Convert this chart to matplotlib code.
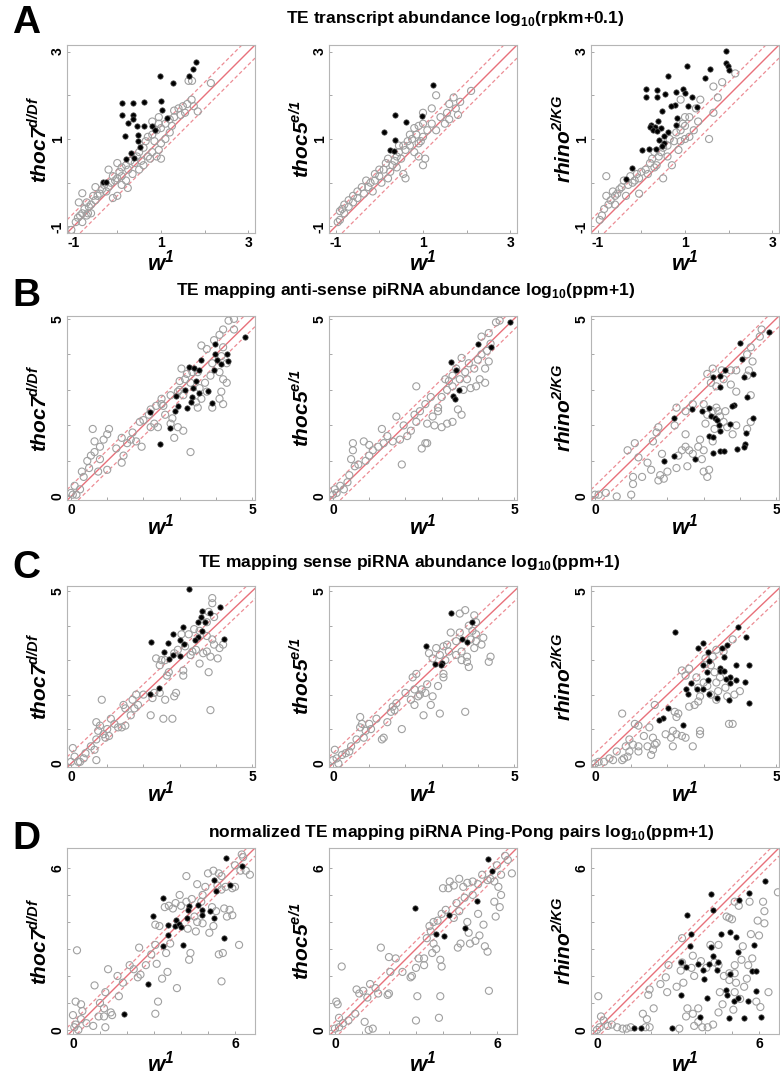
import matplotlib.pyplot as plt

plt.rcParams['font.family'] = 'Liberation Sans'
plt.rcParams['mathtext.fontset'] = 'custom'
plt.rcParams['mathtext.sf'] = 'Liberation Sans:italic:bold'
plt.rcParams['mathtext.bf'] = 'Liberation Sans:bold'
plt.rcParams['mathtext.rm'] = 'Liberation Sans:bold'

# ---- data: (w1, mutant) pairs ----
# A: TE transcript abundance
a_thoc7_grey = [(2.14, 2.28), (1.63, 2.33), (1.71, 2.33), (1.84, 1.63), (1.7, 1.9), (1.6, 1.8), (1.5, 1.75),
                (1.4, 1.7), (1.3, 1.65), (1.75, 1.75), (1.55, 1.6), (1.2, 1.45), (1.1, 1.35), (1.25, 1.3),
                (1.0, 1.25), (0.95, 1.35), (0.9, 1.2), (0.8, 1.1), (0.7, 1.05), (0.65, 0.95), (0.85, 0.95),
                (1.0, 0.9), (1.0, 0.55), (0.95, 0.75), (0.8, 0.7), (0.75, 0.55), (0.6, 0.8), (0.5, 0.7),
                (0.45, 0.6), (0.55, 0.5), (0.4, 0.45), (0.3, 0.5), (0.2, 0.4), (0.25, 0.3), (0.1, 0.35),
                (0.05, 0.25), (0.1, 0.15), (0.0, 0.1), (-0.05, 0.05), (-0.1, 0.15), (-0.15, 0.0), (-0.2, -0.1),
                (-0.3, -0.05), (-0.25, -0.2), (-0.35, -0.15), (-0.4, -0.25), (-0.45, -0.3), (-0.5, -0.4),
                (-0.55, -0.3), (-0.6, -0.5), (-0.65, -0.55), (-0.7, -0.45), (-0.75, -0.6), (-0.8, -0.7),
                (-0.85, -0.75), (-0.9, -0.8), (-0.95, -0.9), (-0.8, -0.9), (-0.7, -0.75), (-0.6, -0.7),
                (0.0, -0.3), (-0.1, -0.35), (0.1, -0.05), (0.2, 0.05), (0.35, 0.2), (0.5, 0.3), (0.6, 0.4),
                (0.7, 0.6), (0.9, 0.6), (1.1, 1.0), (1.2, 1.15), (0.95, 1.5), (0.8, 1.4), (1.3, 1.5),
                (1.45, 1.55), (0.0, 0.45), (-0.2, 0.3), (-0.5, -0.1), (-0.88, -0.45), (-0.8, -0.24),
                (-0.67, -0.7), (-1.05, -1.08), (0.24, -0.12)]
a_thoc7_black = [(1.80, 2.75), (1.74, 2.60), (1.63, 2.44), (0.98, 2.43), (1.27, 2.29), (0.10, 1.82), (0.37, 1.82),
                 (0.60, 1.85), (1.01, 1.87), (0.11, 1.55), (0.36, 1.55), (1.03, 1.67), (1.13, 1.48), (0.36, 1.45),
                 (0.24, 1.36), (0.44, 1.29), (0.60, 1.29), (0.79, 1.30), (0.87, 1.21), (0.18, 1.07), (0.48, 1.10),
                 (0.48, 0.95), (0.52, 0.81), (0.32, 0.69), (0.39, 0.56), (0.19, 0.55), (-0.33, 0.01), (-0.25, 0.01)]
a_thoc5_grey = [(2.1, 2.1), (1.85, 1.85), (1.75, 1.7), (1.6, 1.8), (1.7, 1.95), (1.8, 1.55), (1.6, 1.45),
                (1.55, 1.6), (1.3, 2.0), (1.0, 1.6), (1.2, 1.7), (1.0, 1.35), (0.9, 1.3), (1.1, 1.2), (1.2, 1.35),
                (0.8, 1.25), (0.85, 1.1), (1.0, 1.05), (0.75, 1.0), (0.65, 0.95), (0.9, 0.9), (0.7, 0.85),
                (0.55, 0.85), (0.6, 0.75), (0.8, 0.7), (1.0, 0.4), (1.05, 0.55), (0.9, 0.6), (0.45, 0.7),
                (0.4, 0.6), (0.5, 0.55), (0.35, 0.5), (0.2, 0.55), (0.15, 0.45), (0.3, 0.4), (0.55, 0.2),
                (0.6, 0.1), (0.1, 0.3), (0.0, 0.3), (0.0, 0.15), (-0.1, 0.2), (-0.1, 0.05), (0.05, 0.0),
                (0.2, 0.1), (-0.2, 0.0), (-0.25, -0.1), (-0.3, 0.05), (-0.4, -0.1), (-0.35, -0.25), (-0.5, -0.2),
                (-0.5, -0.35), (-0.6, -0.3), (-0.6, -0.45), (-0.7, -0.4), (-0.7, -0.55), (-0.8, -0.5),
                (-0.8, -0.7), (-0.9, -0.65), (-0.9, -0.85), (-0.95, -0.9), (-0.85, -0.6), (0.25, 0.25),
                (0.4, 0.35), (-0.15, -0.2), (0.45, 0.85), (0.7, 1.1), (1.4, 1.5), (1.5, 1.35), (1.3, 1.2),
                (0.95, 0.95)]
a_thoc5_black = [(1.23, 2.23), (0.37, 1.56), (0.61, 1.38), (0.97, 1.53), (0.10, 1.15), (0.36, 0.98),
                 (0.24, 0.74), (0.33, 0.72)]
a_rhino_grey = [(2.15, 2.5), (1.85, 2.3), (1.65, 2.2), (1.75, 1.95), (1.35, 1.9), (1.25, 1.7), (1.65, 1.6),
                (1.55, 1.0), (1.3, 1.4), (1.1, 1.5), (1.0, 1.5), (1.0, 1.3), (0.9, 1.2), (0.8, 1.15),
                (0.95, 1.35), (0.9, 1.9), (1.0, 1.0), (0.9, 0.95), (0.75, 0.95), (0.65, 1.0), (0.6, 0.85),
                (0.5, 0.8), (0.45, 0.7), (0.4, 0.6), (0.3, 0.7), (0.25, 0.55), (0.2, 0.45), (0.3, 0.35),
                (0.35, 0.4), (0.5, 0.1), (0.1, 0.3), (0.0, 0.25), (-0.05, 0.1), (-0.1, 0.2), (-0.15, 0.05),
                (-0.2, 0.0), (-0.05, -0.25), (-0.25, 0.15), (-0.3, -0.05), (-0.4, 0.05), (-0.45, -0.1),
                (-0.5, -0.15), (-0.55, -0.25), (-0.6, -0.3), (-0.65, -0.2), (-0.7, -0.4), (-0.75, -0.5),
                (-0.8, -0.3), (-0.85, -0.6), (-0.9, -0.75), (-0.95, -0.85), (-0.8, 0.15), (0.7, 0.4),
                (0.6, 0.6), (0.85, 0.75), (1.2, 1.2), (1.1, 1.05), (0.15, 0.2), (-0.35, -0.3), (-0.6, -0.5)]
a_rhino_black = [(1.94, 3.01), (1.93, 2.74), (1.99, 2.66), (2.00, 2.57), (1.57, 2.61), (1.45, 2.40),
                 (1.05, 2.67), (0.62, 2.44), (0.10, 2.14), (0.36, 2.12), (0.10, 1.96), (0.37, 1.96),
                 (0.55, 2.03), (0.80, 2.07), (0.96, 2.14), (1.01, 2.06), (1.15, 1.96), (0.77, 1.78),
                 (0.69, 1.76), (1.06, 1.75), (1.27, 1.73), (0.47, 1.64), (0.81, 1.48), (0.80, 1.33),
                 (0.23, 1.33), (0.38, 1.41), (0.31, 1.27), (0.19, 1.27), (0.46, 1.25), (0.61, 1.16),
                 (0.27, 1.20), (0.36, 1.18), (0.40, 0.98), (0.53, 1.07), (0.52, 0.90), (0.48, 0.83),
                 (0.34, 0.77), (0.18, 0.77), (0.02, 0.74), (-0.21, 0.33), (-0.34, 0.09)]

# B: anti-sense piRNA abundance
b_thoc7_grey = [(4.5, 5.0), (4.35, 4.95), (4.2, 4.7), (4.5, 4.7), (4.1, 4.55), (3.95, 4.4), (3.6, 4.25),
                (3.75, 4.15), (4.2, 4.2), (4.15, 3.95), (4.3, 3.75), (3.9, 3.75), (3.5, 3.5), (3.35, 3.5),
                (3.2, 3.45), (3.05, 3.6), (3.15, 3.3), (3.0, 3.25), (3.3, 3.2), (3.7, 3.2), (3.85, 3.4),
                (4.1, 3.5), (4.2, 3.3), (4.15, 2.95), (4.3, 3.2), (3.75, 2.95), (3.6, 2.75), (3.45, 2.65),
                (3.5, 2.5), (3.9, 2.5), (4.2, 2.6), (4.1, 2.75), (3.1, 2.85), (2.95, 2.95), (2.75, 2.85),
                (2.5, 2.6), (2.35, 2.55), (2.2, 2.45), (2.15, 2.3), (2.6, 2.3), (2.8, 2.2), (2.75, 2.05),
                (2.95, 1.95), (3.1, 1.85), (2.85, 1.65), (3.3, 1.25), (2.4, 1.95), (2.2, 1.95), (1.9, 2.1),
                (1.7, 1.8), (1.65, 1.6), (1.8, 1.55), (1.55, 1.5), (1.4, 1.65), (1.25, 1.35), (1.0, 1.75),
                (1.05, 1.9), (0.9, 1.6), (0.8, 1.4), (0.6, 1.9), (0.65, 1.55), (0.55, 1.15), (0.45, 1.0),
                (0.65, 1.25), (0.8, 1.05), (0.3, 0.7), (0.35, 0.55), (0.25, 0.2), (0.1, 0.3), (0.05, 0.05),
                (0.0, 0.1), (0.15, 0.05), (0.5, 0.8), (0.75, 0.7), (1.0, 0.75), (1.4, 0.95), (1.45, 1.15),
                (2.0, 2.15), (1.95, 1.4), (2.3, 2.05), (2.55, 2.55), (3.55, 3.05), (3.0, 3.0), (2.5, 2.75)]
b_thoc7_black = [(4.80, 4.50), (3.97, 4.28), (3.97, 4.00), (4.31, 4.02), (3.58, 3.83), (4.03, 3.83),
                 (4.15, 3.72), (4.34, 3.80), (3.94, 3.55), (3.25, 3.64), (3.40, 3.63), (3.54, 3.55),
                 (3.46, 3.25), (3.16, 3.01), (3.37, 3.05), (2.91, 2.82), (3.33, 2.80), (3.54, 2.92),
                 (3.77, 2.96), (3.30, 2.66), (3.19, 2.50), (2.96, 2.54), (2.87, 2.41), (3.88, 2.62),
                 (2.18, 2.38), (2.73, 1.92), (2.47, 1.48)]
b_thoc5_grey = [(4.6, 4.95), (4.5, 4.9), (4.3, 4.6), (4.1, 4.5), (4.35, 4.3), (4.25, 4.1), (4.1, 4.0),
                (4.3, 3.8), (4.0, 3.85), (3.9, 3.6), (4.2, 3.6), (4.05, 3.3), (3.95, 3.1), (3.8, 3.05),
                (4.2, 3.2), (3.65, 3.5), (3.5, 3.3), (3.6, 3.0), (3.55, 3.9), (3.75, 3.75), (3.3, 3.4),
                (3.2, 3.25), (3.3, 3.1), (3.15, 3.0), (3.1, 3.3), (3.45, 2.45), (3.55, 2.3), (3.3, 2.1),
                (3.15, 2.05), (3.0, 1.95), (2.8, 2.0), (2.6, 2.05), (2.75, 2.25), (2.9, 2.5), (2.55, 2.6),
                (2.7, 2.8), (3.0, 2.8), (2.4, 2.4), (2.25, 2.3), (2.3, 2.1), (2.15, 1.85), (2.05, 1.7),
                (1.95, 2.0), (1.75, 2.25), (2.3, 3.1), (2.6, 1.5), (2.45, 1.35), (2.55, 1.5), (1.85, 1.6),
                (1.65, 1.55), (1.5, 1.7), (1.4, 1.5), (1.35, 1.9), (1.25, 1.4), (1.1, 1.3), (1.0, 1.45),
                (0.85, 1.55), (1.0, 1.15), (0.9, 1.0), (0.7, 0.9), (0.55, 1.3), (0.55, 1.5), (0.45, 0.6),
                (0.5, 1.05), (0.6, 0.85), (1.9, 0.9), (0.3, 0.2), (0.2, 0.3), (0.1, 0.1), (0.0, 0.05),
                (0.05, 0.2), (0.4, 0.4), (2.9, 2.4), (3.4, 3.6), (3.7, 3.3)]
b_thoc5_black = [(4.9, 4.9), (4.00, 4.29), (4.35, 4.21), (3.26, 3.78), (3.40, 3.57), (3.49, 2.99),
                 (3.30, 2.84), (3.37, 2.73)]
b_rhino_grey = [(4.6, 4.7), (4.55, 4.5), (4.3, 4.2), (4.2, 4.0), (4.35, 3.8), (4.25, 3.55), (4.2, 3.4),
                (3.9, 3.55), (3.75, 3.55), (3.5, 3.55), (3.25, 3.6), (3.1, 3.45), (3.35, 3.1), (3.2, 3.2),
                (3.75, 3.15), (3.9, 2.95), (4.3, 2.85), (4.3, 2.1), (4.2, 1.9), (3.9, 2.0), (3.8, 1.75),
                (3.65, 1.95), (3.55, 2.1), (3.45, 2.25), (3.6, 2.4), (3.4, 2.4), (3.25, 2.4), (3.1, 2.3),
                (3.05, 2.05), (3.3, 1.9), (3.25, 1.55), (3.0, 1.3), (2.85, 1.4), (2.7, 1.2), (2.6, 1.3),
                (2.5, 1.4), (2.4, 1.3), (2.3, 1.15), (2.95, 1.05), (3.0, 0.7), (3.1, 0.55), (2.55, 0.85),
                (2.25, 0.8), (2.0, 0.7), (1.8, 0.6), (1.75, 0.45), (1.9, 0.5), (1.55, 0.75), (1.3, 0.55),
                (1.05, 0.55), (1.05, 0.35), (1.0, 0.05), (0.6, 0.0), (0.3, 0.1), (0.1, 0.05), (0.0, 0.05),
                (1.2, 1.1), (1.1, 1.5), (0.9, 1.3), (1.45, 0.95), (1.6, 1.55), (1.75, 1.95), (1.7, 1.8),
                (2.5, 1.75), (2.2, 2.0), (2.5, 2.4), (2.7, 2.6), (2.25, 2.5), (3.15, 0.75), (2.9, 1.6),
                (3.55, 3.3), (1.85, 1.2), (3.0, 2.6), (3.35, 2.5)]
b_rhino_black = [(4.81, 4.64), (3.99, 4.32), (4.05, 3.86), (3.58, 3.55), (3.26, 3.35), (3.44, 3.38),
                 (3.46, 3.07), (4.12, 3.36), (4.35, 3.46), (4.21, 2.79), (3.84, 2.57), (3.77, 2.55),
                 (4.37, 2.22), (2.67, 2.46), (2.95, 2.41), (3.15, 2.50), (3.21, 2.26), (3.30, 2.22),
                 (3.37, 2.15), (3.42, 2.00), (3.46, 1.85), (3.14, 1.71), (3.26, 1.68), (3.72, 2.04),
                 (4.16, 1.79), (4.13, 1.48), (4.10, 1.38), (3.91, 1.33), (3.45, 1.28), (3.56, 1.28),
                 (3.26, 1.23), (2.18, 2.22), (2.18, 1.15), (1.90, 1.00), (2.75, 1.05)]

# C: sense piRNA abundance
c_thoc7_grey = [(3.9, 4.8), (3.9, 4.65), (3.8, 4.4), (3.95, 4.25), (3.75, 4.1), (3.55, 3.85), (3.75, 3.7),
                (3.9, 3.6), (3.95, 3.45), (4.1, 3.35), (4.2, 3.45), (4.05, 3.05), (3.85, 3.1), (3.75, 3.25),
                (3.65, 3.2), (3.45, 3.3), (3.35, 3.25), (3.3, 3.15), (3.15, 3.4), (3.25, 3.75), (3.4, 3.9),
                (3.05, 3.75), (2.95, 3.3), (2.85, 3.2), (2.6, 3.0), (2.5, 3.0), (2.35, 3.05), (2.45, 2.85),
                (2.7, 2.65), (3.1, 2.7), (3.1, 2.55), (3.55, 2.9), (3.8, 2.65), (3.85, 1.55), (2.9, 2.05),
                (2.85, 1.95), (2.6, 1.85), (2.3, 2.05), (2.25, 1.9), (2.45, 2.05), (2.55, 1.3), (2.8, 1.3),
                (2.2, 1.4), (1.8, 2.0), (1.7, 1.85), (1.85, 1.7), (1.75, 1.6), (1.5, 1.6), (1.45, 1.7),
                (1.65, 1.4), (1.4, 1.05), (1.5, 1.1), (1.3, 1.05), (1.2, 1.15), (1.1, 1.3), (1.0, 1.0),
                (0.9, 0.85), (0.95, 0.75), (1.05, 0.8), (0.8, 1.1), (0.7, 1.2), (0.75, 0.95), (0.85, 1.85),
                (0.7, 0.7), (0.65, 0.4), (0.55, 0.5), (0.4, 0.3), (0.7, 0.1), (0.35, 0.15), (0.25, 0.05),
                (0.1, 0.2), (0.05, 0.45), (0.0, 0.05), (0.2, 0.05), (2.0, 2.0), (2.65, 2.55)]
c_thoc7_black = [(3.25, 5.05), (4.11, 4.55), (3.62, 4.42), (3.83, 4.38), (3.60, 4.24), (3.51, 4.12),
                 (3.69, 4.12), (3.10, 3.97), (3.62, 3.85), (3.51, 3.68), (3.42, 3.59), (4.22, 3.62),
                 (2.82, 3.75), (2.20, 3.52), (3.00, 3.57), (3.12, 3.47), (2.67, 3.51), (2.58, 3.25),
                 (2.82, 3.15), (2.70, 3.04), (3.00, 3.11), (2.44, 2.20), (2.18, 2.03)]
c_thoc5_grey = [(3.65, 4.45), (3.5, 4.35), (3.9, 4.3), (3.95, 4.1), (3.75, 4.0), (3.85, 3.85), (3.95, 3.75),
                (3.8, 3.6), (3.95, 3.55), (4.15, 3.65), (4.1, 3.45), (3.9, 3.35), (4.35, 3.1), (4.3, 2.95),
                (3.7, 3.1), (3.75, 2.8), (3.7, 2.95), (3.55, 3.25), (3.55, 3.0), (3.4, 3.15), (3.4, 3.55),
                (3.5, 3.8), (3.25, 3.8), (3.15, 3.45), (3.2, 3.25), (3.1, 3.0), (3.05, 3.4), (2.95, 3.15),
                (2.85, 3.35), (2.75, 3.05), (2.65, 3.2), (3.05, 2.6), (3.05, 2.5), (2.9, 2.25), (2.6, 2.3),
                (2.55, 2.05), (2.45, 2.15), (2.4, 2.0), (2.25, 2.15), (2.2, 2.5), (2.15, 1.85), (2.25, 1.7),
                (2.35, 1.95), (2.75, 1.95), (2.7, 1.7), (2.5, 1.4), (2.95, 1.45), (3.65, 1.5), (1.65, 1.65),
                (1.75, 1.75), (1.6, 1.5), (1.7, 1.55), (1.9, 1.0), (1.4, 0.75), (1.35, 0.7), (1.05, 1.0),
                (1.0, 1.15), (0.8, 1.15), (0.9, 0.95), (0.75, 1.05), (0.85, 0.75), (0.75, 1.35), (0.65, 0.7),
                (0.5, 0.5), (0.45, 0.35), (0.35, 0.3), (0.25, 0.25), (0.1, 0.15), (0.05, 0.4), (0.0, 0.1),
                (0.15, 0.0), (1.2, 1.3), (1.5, 1.2), (2.3, 2.6), (2.0, 2.05)]
c_thoc5_black = [(3.25, 4.37), (3.85, 4.10), (3.56, 3.61), (3.70, 3.53), (2.57, 3.42), (2.83, 2.89),
                 (3.02, 2.92), (2.97, 2.86)]
c_rhino_grey = [(3.8, 3.6), (3.55, 3.25), (3.35, 3.3), (3.25, 3.1), (3.05, 3.05), (3.2, 2.85), (3.3, 2.65),
                (3.45, 2.5), (3.35, 2.35), (3.6, 2.2), (3.4, 2.1), (3.2, 2.0), (3.65, 1.95), (3.85, 2.0),
                (4.0, 2.1), (3.0, 2.35), (2.8, 2.5), (2.6, 2.75), (2.4, 2.7), (2.5, 2.55), (2.85, 1.8),
                (2.75, 1.7), (2.9, 1.95), (2.6, 1.65), (2.3, 1.45), (2.2, 1.5), (2.25, 1.35), (3.7, 1.15),
                (3.8, 1.15), (2.9, 0.85), (2.9, 0.95), (2.7, 0.5), (2.5, 0.75), (2.4, 0.8), (2.25, 0.85),
                (2.15, 0.95), (2.1, 0.75), (2.15, 0.5), (1.7, 0.6), (1.65, 0.55), (1.6, 0.4), (1.55, 0.25),
                (1.6, 0.75), (1.45, 0.5), (1.5, 1.05), (1.35, 0.8), (1.2, 0.5), (1.2, 0.35), (1.05, 0.55),
                (0.95, 0.35), (0.9, 0.2), (0.8, 0.15), (0.75, 0.1), (0.6, 0.35), (0.5, 0.1), (0.4, 0.15),
                (0.25, 0.05), (0.1, 0.05), (0.0, 0.0), (1.1, 1.15), (0.75, 1.45), (1.65, 1.7), (1.2, 1.1),
                (0.95, 0.7), (0.85, 0.5), (3.1, 2.25), (2.85, 2.2), (3.35, 1.85), (1.95, 0.85)]
c_rhino_black = [(2.20, 3.82), (3.94, 3.96), (4.16, 3.67), (3.64, 3.45), (3.50, 3.36), (2.97, 3.50),
                 (2.85, 3.36), (3.13, 3.23), (3.16, 2.97), (3.55, 3.08), (2.99, 2.85), (3.08, 2.67),
                 (3.44, 2.76), (3.46, 2.69), (3.57, 2.69), (3.72, 2.52), (3.88, 2.85), (3.88, 2.43),
                 (4.25, 2.85), (4.13, 2.36), (3.74, 2.33), (3.63, 2.45), (3.13, 2.43), (2.64, 2.33),
                 (2.83, 2.15), (2.97, 2.15), (2.50, 2.15), (2.57, 2.01), (3.15, 2.01), (3.36, 1.90),
                 (3.69, 1.85), (4.25, 1.77), (2.01, 1.60), (1.87, 1.33), (1.76, 1.27), (2.43, 1.13)]

# D: normalized Ping-Pong pairs
d_thoc7_grey = [(6.3, 6.4), (6.0, 6.1), (6.2, 5.9), (6.4, 5.9), (5.5, 5.7), (5.4, 5.8), (5.2, 5.9),
                (5.0, 5.8), (5.35, 5.35), (5.65, 5.3), (5.9, 5.25), (6.0, 5.3), (5.5, 5.2), (4.9, 5.3),
                (4.6, 5.4), (4.2, 5.7), (4.8, 5.0), (4.4, 4.85), (4.2, 4.75), (4.0, 4.6), (4.5, 4.2),
                (4.6, 4.0), (4.8, 3.95), (5.15, 4.55), (5.3, 4.4), (5.6, 4.5), (5.8, 4.45), (5.9, 4.25),
                (5.7, 4.2), (5.2, 3.85), (5.05, 3.6), (5.4, 2.8), (5.55, 2.85), (6.15, 3.15), (6.25, 6.5),
                (3.8, 4.7), (3.7, 4.5), (3.55, 4.6), (3.4, 4.55), (3.2, 3.85), (3.05, 3.9), (3.05, 3.15),
                (3.6, 3.2), (3.45, 2.85), (4.35, 2.85), (4.3, 2.6), (4.55, 3.65), (3.1, 2.45), (3.5, 2.15),
                (3.3, 1.9), (3.85, 1.55), (5.5, 1.8), (3.15, 1.05), (3.05, 0.6), (2.4, 1.95), (2.1, 2.4),
                (2.7, 2.4), (2.9, 2.8), (2.45, 3.05), (2.5, 2.05), (2.25, 2.25), (1.65, 2.0), (1.3, 2.25),
                (1.7, 1.25), (1.2, 1.4), (0.8, 1.65), (1.0, 1.0), (1.15, 0.8), (1.4, 0.65), (1.45, 0.55),
                (1.15, 0.5), (0.95, 0.5), (0.75, 0.15), (1.2, 0.1), (0.35, 0.7), (0.3, 0.95), (0.1, 1.05),
                (0.15, 2.95), (0.0, 0.55), (0.1, 0.2), (0.05, 0.1), (0.2, 0.0), (0.5, 0.25), (0.3, 0.4),
                (1.85, 1.75), (4.25, 3.75), (4.75, 4.75), (3.95, 5.0), (6.55, 5.75)]
d_thoc7_black = [(5.68, 6.37), (6.26, 6.07), (5.22, 5.57), (5.83, 5.38), (5.29, 5.15), (3.32, 4.89),
                 (4.64, 4.62), (4.29, 4.58), (4.79, 4.43), (5.07, 4.40), (4.27, 4.43), (2.98, 4.21),
                 (3.80, 4.09), (5.22, 4.16), (4.79, 4.27), (4.24, 4.13), (3.51, 3.88), (3.78, 3.84),
                 (3.92, 3.92), (3.99, 3.82), (3.51, 3.53), (3.32, 3.12), (4.06, 3.16), (5.60, 3.42),
                 (2.79, 1.70), (1.89, 0.58)]
d_thoc5_grey = [(6.3, 6.45), (6.4, 6.3), (6.0, 6.1), (6.15, 5.75), (6.55, 5.8), (5.9, 5.5), (6.05, 5.3),
                (5.75, 5.6), (5.45, 5.75), (5.65, 5.55), (5.3, 5.4), (5.1, 5.5), (4.9, 5.45), (4.75, 5.3),
                (4.6, 5.6), (4.4, 5.35), (4.2, 5.25), (4.0, 5.25), (4.25, 5.5), (5.1, 5.0), (4.8, 4.9),
                (4.5, 4.7), (4.6, 4.4), (4.4, 4.15), (4.1, 4.45), (3.95, 4.3), (3.8, 4.05), (3.65, 4.0),
                (3.5, 3.85), (3.55, 3.65), (3.4, 3.4), (3.65, 3.2), (3.75, 3.0), (3.6, 2.85), (3.9, 2.6),
                (3.95, 2.35), (4.9, 4.0), (5.3, 4.3), (5.5, 3.9), (5.35, 3.5), (5.2, 3.3), (5.55, 3.1),
                (5.65, 2.9), (5.95, 4.2), (6.1, 4.55), (5.9, 4.75), (6.15, 5.0), (5.0, 3.2), (4.95, 3.6),
                (5.7, 1.45), (4.65, 3.2), (4.55, 3.05), (3.3, 2.65), (3.1, 2.65), (3.0, 2.3), (3.3, 2.4),
                (2.85, 2.0), (2.5, 2.15), (2.05, 2.15), (2.0, 2.7), (1.7, 3.05), (3.05, 1.25), (3.0, 0.35),
                (3.9, 1.25), (3.85, 0.45), (2.0, 1.35), (1.95, 1.3), (1.6, 1.35), (1.5, 1.55), (1.3, 1.7),
                (1.2, 1.2), (1.05, 1.45), (0.9, 1.35), (0.8, 1.5), (0.75, 0.6), (0.5, 0.35), (0.3, 0.25),
                (0.15, 0.1), (0.05, 1.05), (0.1, 0.95), (0.25, 2.35), (0.0, 0.05), (0.15, 0.45), (1.4, 0.05),
                (1.25, 0.0), (1.1, 0.3), (2.8, 1.95), (2.25, 2.65)]
d_thoc5_black = [(5.68, 6.33), (5.82, 5.88), (5.25, 4.77), (4.24, 4.27), (2.95, 4.52), (4.80, 3.76),
                 (3.74, 3.54), (4.05, 3.48)]
d_rhino_grey = [(6.7, 5.1), (6.15, 4.75), (6.2, 4.4), (5.95, 4.05), (6.0, 3.5), (5.7, 3.55), (5.75, 2.65),
                (5.6, 2.4), (5.35, 2.6), (5.1, 2.4), (5.1, 2.1), (4.9, 2.1), (4.7, 2.0), (4.9, 1.85),
                (4.5, 2.4), (4.35, 2.5), (4.05, 2.3), (3.85, 2.55), (3.55, 2.75), (3.5, 2.3), (3.6, 2.0),
                (3.15, 2.5), (3.1, 2.2), (3.2, 1.75), (2.95, 1.6), (2.6, 1.4), (2.55, 1.95), (3.35, 0.8),
                (3.55, 0.6), (3.6, 0.15), (3.75, 0.3), (3.9, 0.1), (4.1, 0.1), (4.3, 0.2), (4.5, 0.65),
                (4.65, 0.95), (5.05, 0.75), (5.1, 1.4), (5.3, 1.15), (5.45, 1.6), (5.55, 1.9), (5.9, 1.05),
                (6.05, 0.85), (6.35, 1.4), (5.1, 4.75), (5.25, 4.6), (4.8, 4.2), (5.0, 4.1), (4.2, 3.15),
                (4.5, 3.15), (5.4, 3.1), (3.15, 3.4), (2.65, 2.4), (1.95, 1.5), (1.9, 1.3), (2.35, 1.7),
                (2.1, 0.8), (1.95, 0.1), (1.8, 0.1), (1.25, 0.1), (1.1, 0.05), (0.95, 0.05), (0.75, 0.1),
                (0.4, 0.15), (0.55, 0.2), (0.25, 0.35), (0.15, 0.5), (0.05, 1.25), (0.0, 0.0), (0.1, 0.1),
                (1.7, 0.6), (1.85, 0.4), (3.3, 0.5), (3.05, 0.05), (3.75, 0.8), (4.9, 4.15), (6.2, 3.95),
                (5.65, 4.75), (4.55, 1.4), (5.15, 1.75)]
d_rhino_black = [(6.22, 5.53), (5.64, 5.07), (5.25, 4.83), (4.23, 5.04), (4.28, 4.43), (3.33, 4.25),
                 (3.49, 3.54), (4.61, 3.55), (4.91, 3.61), (5.15, 3.43), (3.45, 3.11), (4.22, 3.06),
                 (4.30, 2.74), (5.23, 2.88), (5.80, 3.15), (3.10, 2.53), (3.73, 2.44), (3.28, 2.35),
                 (4.13, 2.44), (4.50, 2.53), (3.94, 2.23), (3.97, 1.88), (4.43, 2.23), (4.91, 2.08),
                 (5.74, 2.17), (5.89, 2.17), (4.76, 1.47), (4.82, 1.29), (5.07, 1.06), (5.23, 1.19),
                 (5.58, 1.06), (5.88, 1.43), (3.12, 1.29), (4.07, 1.19), (3.82, 0.49), (4.88, 0.45),
                 (5.46, 0.43), (6.08, 0.49), (2.79, 0.06), (1.39, 0.06), (1.63, 0.06)]

panel_letters = ['A', 'B', 'C', 'D']
row_titles = [r'TE transcript abundance log$_{\mathbf{10}}$(rpkm+0.1)',
              r'TE mapping anti-sense piRNA abundance log$_{\mathbf{10}}$(ppm+1)',
              r'TE mapping sense piRNA abundance log$_{\mathbf{10}}$(ppm+1)',
              r'normalized TE mapping piRNA Ping-Pong pairs log$_{\mathbf{10}}$(ppm+1)']
genotypes = [r'$\mathsf{thoc7}^{\mathsf{d/Df}}$', r'$\mathsf{thoc5}^{\mathsf{e/1}}$',
             r'$\mathsf{rhino}^{\mathsf{2/KG}}$']
control_label = r'$\mathsf{w}^{\mathsf{1}}$'
row_ticks = [[-1, 0, 1, 2, 3], [0, 1, 2, 3, 4, 5], [0, 1, 2, 3, 4, 5], [0, 1, 2, 3, 4, 5, 6]]
row_ticklabels = [['-1', '', '1', '', '3'], ['0', '', '', '', '', '5'], ['0', '', '', '', '', '5'],
                  ['0', '', '', '', '', '', '6']]

panels = [[(a_thoc7_grey, a_thoc7_black), (a_thoc5_grey, a_thoc5_black), (a_rhino_grey, a_rhino_black)],
          [(b_thoc7_grey, b_thoc7_black), (b_thoc5_grey, b_thoc5_black), (b_rhino_grey, b_rhino_black)],
          [(c_thoc7_grey, c_thoc7_black), (c_thoc5_grey, c_thoc5_black), (c_rhino_grey, c_rhino_black)],
          [(d_thoc7_grey, d_thoc7_black), (d_thoc5_grey, d_thoc5_black), (d_rhino_grey, d_rhino_black)]]

# ---- layout (pixels) ----
W, H = 780, 1076
col_left = [67, 329, 591]
ax_w = 188
row_top = [45, 316, 586, 848]
row_bot = [233, 500, 767, 1034]
xlims = [(-1.15, 3.15), (-0.11, 5.08), (-0.11, 5.08), (-0.22, 6.74)]
ylims = [(-1.15, 3.15), (-0.1, 5.08), (-0.1, 5.15), (-0.15, 6.74)]
title_pos = [(455, 18), (406, 291), (409, 563), (461, 833)]
letter_y = [23, 296, 568, 839]
xlab_y = [263, 527, 794, 1064]
ylab_x = [39, 301, 563]

fig = plt.figure(figsize=(W / 100, H / 100), dpi=100)

pink = '#e8707a'
for r in range(4):
    fig.text(26 / W, 1 - letter_y[r] / H, panel_letters[r], fontsize=28, fontweight='bold',
             ha='center', va='center')
    fig.text(title_pos[r][0] / W, 1 - title_pos[r][1] / H, row_titles[r], fontsize=12.5,
             fontweight='bold', ha='center', va='center')
    for c in range(3):
        grey, black = panels[r][c]
        ax = fig.add_axes([col_left[c] / W, 1 - row_bot[r] / H, ax_w / W, (row_bot[r] - row_top[r]) / H])
        ax.set_xlim(xlims[r])
        ax.set_ylim(ylims[r])
        ax.axline((0, 0), slope=1, color=pink, lw=1.0, zorder=1)
        for off in (0.3, -0.3):
            ax.axline((0, off), slope=1, color=pink, lw=0.9, ls=(0, (3, 2)), alpha=0.8, zorder=1)
        gx = [p[0] for p in grey]
        gy = [p[1] for p in grey]
        ax.scatter(gx, gy, s=26, facecolors='none', edgecolors='#a0a0a0', linewidths=0.8, zorder=2)
        bx = [p[0] for p in black]
        by = [p[1] for p in black]
        ax.scatter(bx, by, s=15, facecolors='black', edgecolors='#555555', linewidths=0.5, zorder=3)

        ax.set_xticks(row_ticks[r])
        ax.set_xticklabels(row_ticklabels[r], fontweight='bold', fontsize=10)
        ax.set_yticks(row_ticks[r])
        ax.set_yticklabels(row_ticklabels[r], fontweight='bold', fontsize=10, rotation=90, va='center')
        ax.tick_params(direction='in', length=2.5, width=0.6, color='#999999', pad=2)
        ax.tick_params(axis='y', pad=1.5)
        for sp in ax.spines.values():
            sp.set_color('#b5b5b5')
            sp.set_linewidth(0.8)

        fig.text(ylab_x[c] / W, 1 - (row_top[r] + row_bot[r]) / 2 / H, genotypes[c], fontsize=15,
                 rotation=90, ha='center', va='center')
        fig.text((col_left[c] + ax_w / 2) / W, 1 - xlab_y[r] / H, control_label, fontsize=16,
                 ha='center', va='center')

fig.savefig('out.png', dpi=100, facecolor='white')
